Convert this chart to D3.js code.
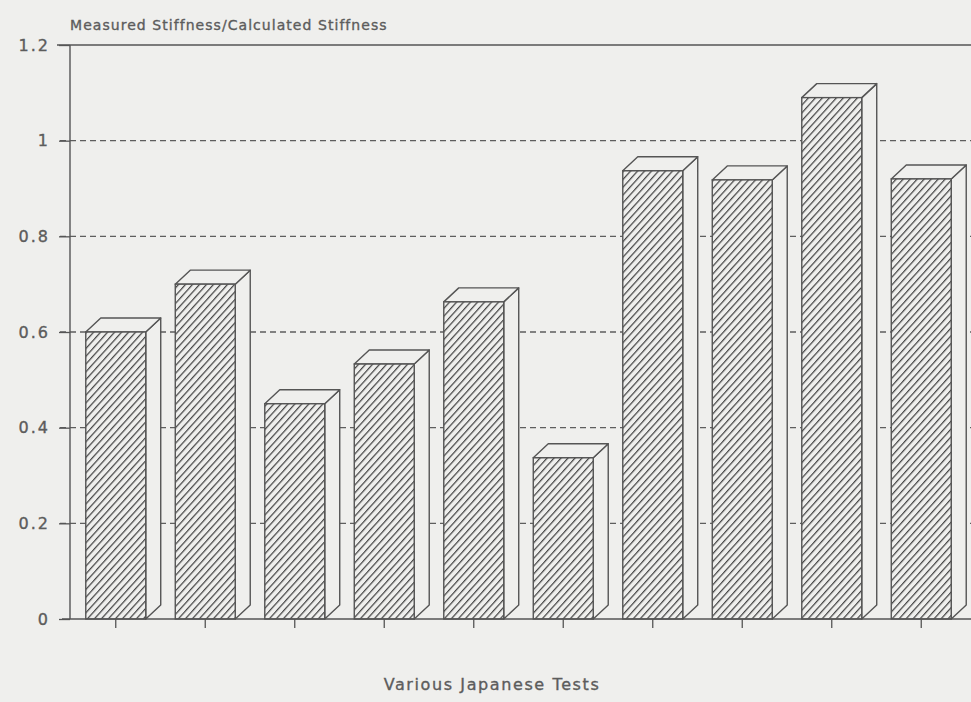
<!DOCTYPE html>
<html>
<head>
<meta charset="utf-8">
<script src="https://cdn.jsdelivr.net/npm/d3@7"></script>
<style>
  html, body { margin: 0; padding: 0; background: #efefed; }
  svg { display: block; }
  text { font-family: "DejaVu Sans", sans-serif; fill: #5c5c5c; stroke: #5c5c5c; stroke-width: 0.35px; }
</style>
</head>
<body>
<svg id="chart" width="971" height="702"></svg>
<script>
// Stiffness ratio for each Japanese test specimen
const tests = ["T1", "T2", "T3", "T4", "T5", "T6", "T7", "T8", "T9", "T10"];
const ratios = [0.60, 0.70, 0.45, 0.533, 0.663, 0.337, 0.937, 0.918, 1.09, 0.92];
const yTicks = [0, 0.2, 0.4, 0.6, 0.8, 1, 1.2];
const yTickLabels = ["0", "0.2", "0.4", "0.6", "0.8", "1", "1.2"];

const svg = d3.select("#chart");
const ink = "#555555";

const x = d3.scaleBand().domain(tests).range([71, 966]).paddingInner(0.33).paddingOuter(0.165);
const y = d3.scaleLinear().domain([0, 1.2]).range([619, 45]);

const depthX = 15, depthY = 14;

// diagonal hatch for bar fronts
const defs = svg.append("defs");
const pat = defs.append("pattern")
  .attr("id", "hatch")
  .attr("patternUnits", "userSpaceOnUse")
  .attr("width", 5.2).attr("height", 10)
  .attr("patternTransform", "rotate(42)");
pat.append("rect").attr("width", 5.2).attr("height", 10).attr("fill", "#efefed");
pat.append("line").attr("x1", 0.6).attr("y1", 0).attr("x2", 0.6).attr("y2", 10)
  .attr("stroke", "#444").attr("stroke-width", 1.25);

// gridlines
const grid = svg.append("g");
grid.selectAll("line").data(yTicks.filter(v => v > 0 && v < 1.2)).join("line")
  .attr("x1", 60).attr("x2", 971)
  .attr("y1", d => y(d)).attr("y2", d => y(d))
  .attr("stroke", "#5e5e5e").attr("stroke-width", 1.3)
  .attr("stroke-dasharray", "6,4");

// top frame line
svg.append("line").attr("x1", 57).attr("x2", 971)
  .attr("y1", y(1.2)).attr("y2", y(1.2))
  .attr("stroke", ink).attr("stroke-width", 1.3);

// y axis
const yAxis = d3.axisLeft(y).tickValues(yTicks)
  .tickFormat((d, i) => yTickLabels[i]).tickSize(11).tickPadding(9);
const gy = svg.append("g").attr("transform", "translate(70,0)").call(yAxis);
gy.select(".domain").attr("stroke", ink).attr("stroke-width", 1.4).attr("d", `M0,${y(1.2)}V${y(0)}`);
gy.selectAll(".tick line").attr("stroke", ink).attr("stroke-width", 1.3);
gy.selectAll(".tick text").style("font-size", "16px").style("letter-spacing", "2px")
  .attr("fill", "#5c5c5c").style("font-family", "'DejaVu Sans', sans-serif");

// 3-D bars
const bars = svg.append("g").selectAll("g").data(tests).join("g");
bars.each(function(t, i) {
  const g = d3.select(this);
  const x0 = x(t), x1 = x(t) + x.bandwidth();
  const yt = y(ratios[i]), yb = y(0);
  // side face
  g.append("path")
    .attr("d", `M${x1},${yt}L${x1 + depthX},${yt - depthY}L${x1 + depthX},${yb - depthY}L${x1},${yb}Z`)
    .attr("fill", "#efefed").attr("stroke", ink).attr("stroke-width", 1.4).attr("stroke-linejoin", "round");
  // top face
  g.append("path")
    .attr("d", `M${x0},${yt}L${x0 + depthX},${yt - depthY}L${x1 + depthX},${yt - depthY}L${x1},${yt}Z`)
    .attr("fill", "#efefed").attr("stroke", ink).attr("stroke-width", 1.4).attr("stroke-linejoin", "round");
  // front face
  g.append("rect")
    .attr("x", x0).attr("y", yt).attr("width", x1 - x0).attr("height", yb - yt)
    .attr("fill", "url(#hatch)").attr("stroke", ink).attr("stroke-width", 1.4);
});

// x axis
const xAxis = d3.axisBottom(x).tickSize(9).tickFormat("");
const gx = svg.append("g").attr("transform", `translate(0,${y(0)})`).call(xAxis);
gx.select(".domain").attr("d", "M62,0H971").attr("stroke", ink).attr("stroke-width", 1.4);
gx.selectAll(".tick line").attr("stroke", ink).attr("stroke-width", 1.3);

// titles
svg.append("text").attr("x", 70).attr("y", 30)
  .style("font-size", "14px").style("letter-spacing", "1.05px")
  .text("Measured Stiffness/Calculated Stiffness");
svg.append("text").attr("x", 492).attr("y", 690).attr("text-anchor", "middle")
  .style("font-size", "16px").style("letter-spacing", "1.6px")
  .text("Various Japanese Tests");
</script>
</body>
</html>
